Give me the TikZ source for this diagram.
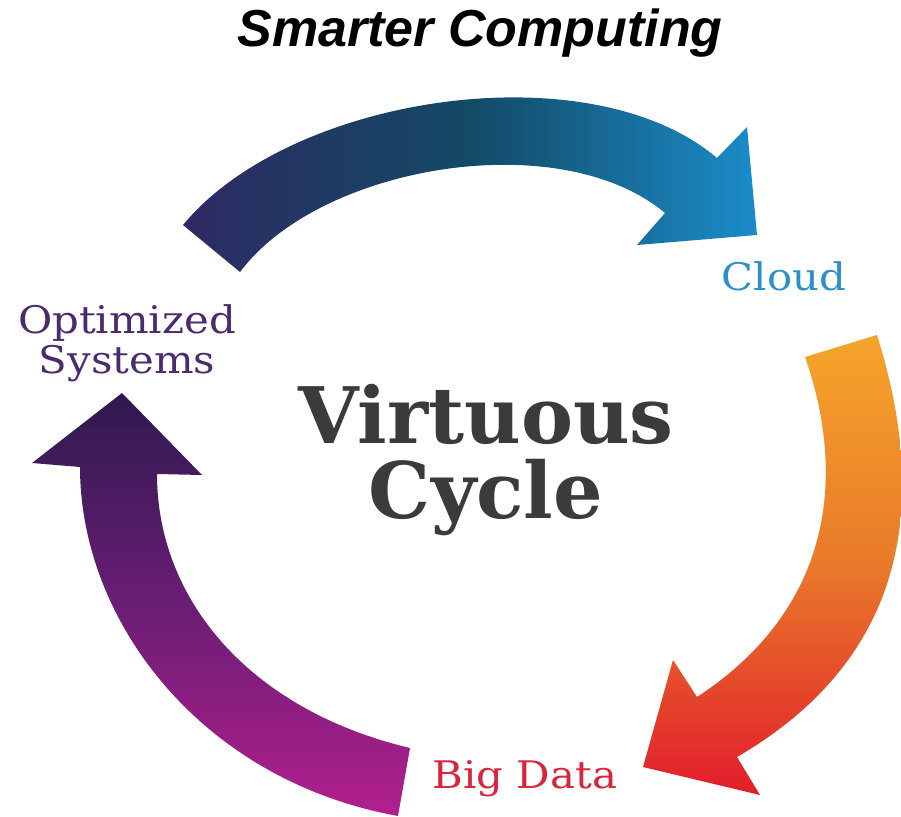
\documentclass[tikz,border=0pt]{standalone}
\usepackage{fontspec}
\newfontfamily\titlefont{Liberation Sans}
\newfontfamily\slabfont{DejaVu Serif}[FakeStretch=1.1]
\newfontfamily\slabbold{DejaVu Serif Bold}
\definecolor{navyL}{HTML}{2E2A62}
\definecolor{tealM}{HTML}{134A66}
\definecolor{blueR}{HTML}{1B8CC9}
\definecolor{orT}{HTML}{F5A52A}
\definecolor{orM}{HTML}{E9792A}
\definecolor{redB}{HTML}{E11D2C}
\definecolor{purT}{HTML}{2E1A4E}
\definecolor{purM}{HTML}{6A1D75}
\definecolor{magB}{HTML}{B31F8F}
\definecolor{cloudC}{HTML}{2B90C8}
\definecolor{optC}{HTML}{4B2A6E}
\definecolor{bigC}{HTML}{D9253C}
\definecolor{virtC}{HTML}{3B3B3B}
\tikzset{
  lbl/.style={inner sep=0pt, anchor=base, font=\slabfont\fontsize{38}{40}\selectfont},
}
\begin{document}
\begin{tikzpicture}[x=1pt,y=-1pt]
\useasboundingbox (0,0) rectangle (901,816);
% top arrow (blue)
\shade[left color=navyL, right color=blueR, middle color=tealM]
  (183,225) .. controls (290,95) and (590,50) .. (717,158)
  -- (747,127) -- (757,235) -- (637,245) -- (665,213)
  .. controls (560,125) and (320,165) .. (240,272)
  -- cycle;
% right arrow (orange)
\shade[top color=orT, bottom color=redB, middle color=orM]
  (805,357) -- (877,335)
  .. controls (935,520) and (895,665) .. (737,757)
  -- (760,795) -- (643,767) -- (673,660) -- (697,697)
  .. controls (830,610) and (848,480) .. (805,357)
  -- cycle;
% left arrow (purple)
\shade[top color=purT, bottom color=magB, middle color=purM]
  (410,748) -- (398,816)
  .. controls (200,780) and (80,620) .. (80,467)
  -- (32,463) -- (122,393) -- (202,475) -- (157,474)
  .. controls (157,600) and (250,710) .. (410,748)
  -- cycle;
% texts
\node[inner sep=0pt, anchor=base, font=\titlefont\bfseries\itshape\fontsize{52}{60}\selectfont] (title) at (480,47) {Smarter Computing};
\node[lbl, text=cloudC] (cloud) at (784,290) {Cloud};
\node[lbl, text=bigC] (bigdata) at (525,788) {Big Data};
\node[lbl, text=optC, align=center] (optsys) at (127,373) {Optimized\\Systems};
\node[inner sep=0pt, anchor=base, align=center, text=virtC, font=\slabbold\fontsize{78}{75}\selectfont] (virtuous) at (486,518) {Virtuous\\Cycle};
\end{tikzpicture}
\end{document}
